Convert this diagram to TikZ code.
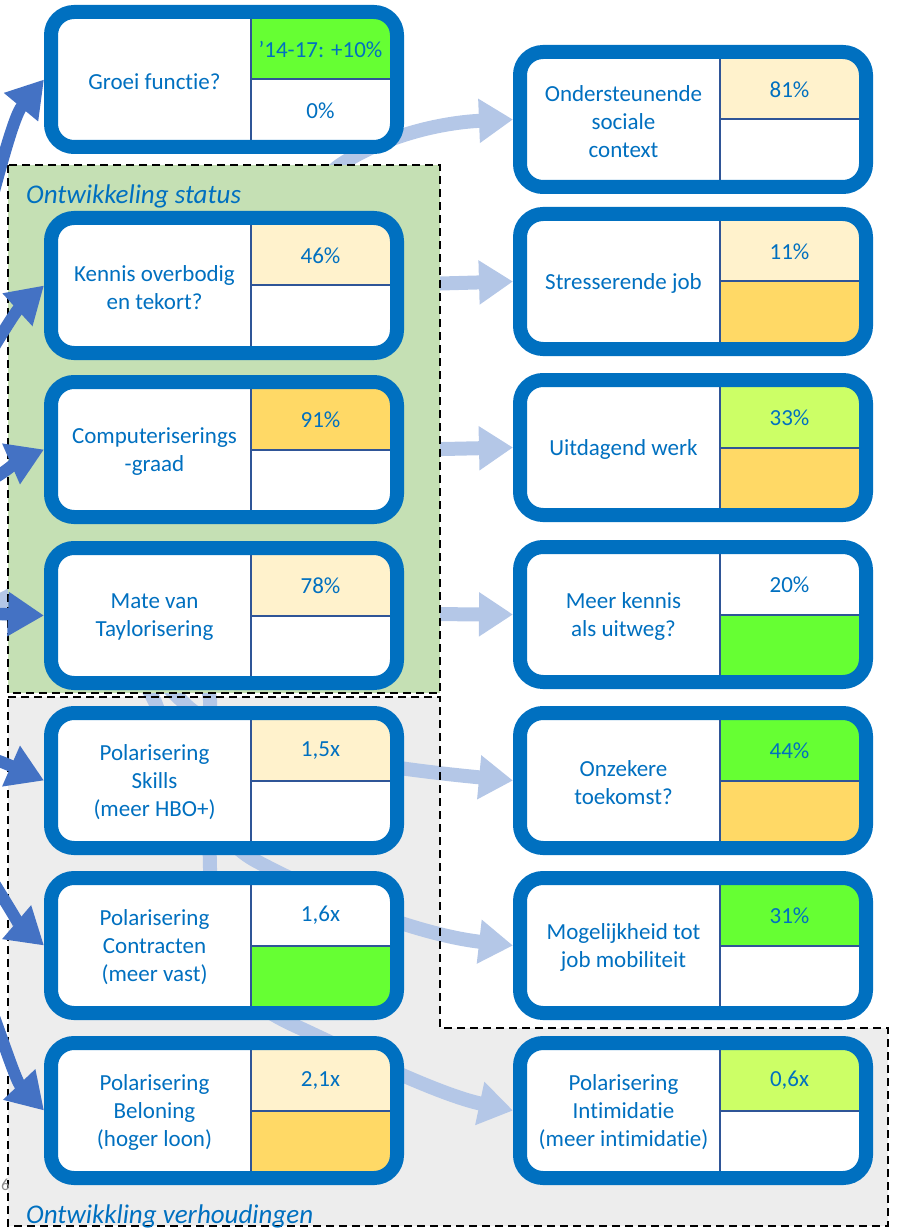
\documentclass[tikz,border=0pt]{standalone}
\usepackage{fontspec}
\setmainfont{Carlito}[RawFeature={-liga;-clig;-dlig}]
\usetikzlibrary{arrows.meta,calc}
\definecolor{boxblue}{HTML}{0070C0}
\definecolor{txtblue}{HTML}{0070C0}
\definecolor{divblue}{HTML}{2F5597}
\definecolor{darkarrow}{HTML}{4472C4}
\definecolor{lightarrow}{HTML}{B4C7E7}
\definecolor{greenbg}{HTML}{C5E0B4}
\definecolor{graybg}{HTML}{EDEDED}
\definecolor{cLY}{HTML}{FFF2CC}
\definecolor{cGold}{HTML}{FFD966}
\definecolor{cGreen}{HTML}{66FF33}
\definecolor{cLime}{HTML}{CCFF66}
\definecolor{slidegray}{HTML}{8C8C8C}
\pgfdeclarelayer{bglayer}
\pgfdeclarelayer{arrlayer}
\pgfdeclarelayer{grnlayer}
\pgfdeclarelayer{toplayer}
\pgfsetlayers{bglayer,arrlayer,grnlayer,main,toplayer}
\tikzset{
  cellbox/.style 2 args={draw=boxblue, line width=14pt, rounded corners=23pt, fill=white,
    minimum width=346pt, minimum height=135pt, inner sep=0pt, outer sep=7pt,
    path picture={
      \fill[#1, sharp corners] ($(path picture bounding box.north)+(27,0)$) rectangle (path picture bounding box.east);
      \fill[#2, sharp corners] ($(path picture bounding box.center)+(27,0)$) rectangle (path picture bounding box.south east);
      \draw[divblue, line width=2pt, sharp corners] ($(path picture bounding box.north)+(27,0)$) -- ($(path picture bounding box.south)+(27,0)$);
      \draw[divblue, line width=2pt, sharp corners] ($(path picture bounding box.center)+(27,0)$) -- (path picture bounding box.east);
    }},
  lbl/.style={text=txtblue, align=center, font=\fontsize{23}{28}\selectfont, inner sep=0pt},
  val/.style={text=txtblue, font=\fontsize{23}{28}\selectfont, inner sep=0pt},
  grp/.style={text=txtblue, font=\fontsize{27}{32}\selectfont\itshape, inner sep=0pt, anchor=base west},
  darr/.style={draw=darkarrow, line width=12pt, -{Triangle[length=36pt,width=42pt]}},
  larr/.style={draw=lightarrow, line width=14pt, -{Triangle[length=34pt,width=42pt]}},
  grpborder/.style={draw=black, line width=2.6pt, dash pattern=on 8pt off 5pt},
}
\newcommand\mkcell[8]{%
  \node[cellbox={#5}{#7}] (#1) at (#2,#3) {};
  \node[lbl] (#1l) at ($(#1.center)+(-69.5,2)$) {#4};
  \if\relax\detokenize{#6}\relax\else\node[val] (#1a) at ($(#1.center)+(96.5,-30)$) {#6};\fi
  \if\relax\detokenize{#8}\relax\else\node[val] (#1b) at ($(#1.center)+(96.5,31)$) {#8};\fi
}
\begin{document}
\begin{tikzpicture}[x=1pt,y=-1pt]
\useasboundingbox (0,0) rectangle (896,1230);
% boxes, left column
\mkcell{L1}{224}{79.5}{Groei functie?}{cGreen}{’14-17: +10\%}{white}{0\%}
\mkcell{L2}{224}{285.5}{Kennis overbodig\\en tekort?}{cLY}{46\%}{white}{}
\mkcell{L3}{224}{449.5}{Computeriserings\\-graad}{cGold}{91\%}{white}{}
\mkcell{L4}{224}{615.5}{Mate van\\Taylorisering}{cLY}{78\%}{white}{}
\mkcell{L5}{224}{780.5}{Polarisering\\Skills\\(meer HBO+)}{cLY}{1,5x}{white}{}
\mkcell{L6}{224}{945.5}{Polarisering\\Contracten\\(meer vast)}{white}{1,6x}{cGreen}{}
\mkcell{L7}{224}{1110.5}{Polarisering\\Beloning\\(hoger loon)}{cLY}{2,1x}{cGold}{}
% boxes, right column
\mkcell{R1}{693}{119.5}{Ondersteunende\\sociale\\context}{cLY}{81\%}{white}{}
\mkcell{R2}{693}{281.5}{Stresserende job}{cLY}{11\%}{cGold}{}
\mkcell{R3}{693}{447.5}{Uitdagend werk}{cLime}{33\%}{cGold}{}
\mkcell{R4}{693}{614.5}{Meer kennis\\als uitweg?}{white}{20\%}{cGreen}{}
\mkcell{R5}{693}{780.5}{Onzekere\\toekomst?}{cGreen}{44\%}{cGold}{}
\mkcell{R6}{693}{945.5}{Mogelijkheid tot\\job mobiliteit}{cGreen}{31\%}{white}{}
\mkcell{R7}{693}{1110.5}{Polarisering\\Intimidatie\\(meer intimidatie)}{cLime}{0,6x}{white}{}
% group labels
\node[grp] (gstat) at (26,204) {Ontwikkeling status};
\node[grp] (gverh) at (26,1223) {Ontwikkling verhoudingen};
\node[text=slidegray, font=\fontsize{17}{20}\selectfont, inner sep=0pt] (pnum) at (5.5,1185) {6};
% group backgrounds
\begin{pgfonlayer}{bglayer}
  \fill[graybg] (8,697) -- (440,697) -- (440,1028) -- (888,1028) -- (888,1226) -- (8,1226) -- cycle;
\end{pgfonlayer}
\begin{pgfonlayer}{grnlayer}
  \fill[greenbg] (8,165) rectangle (440,693);
  \draw[grpborder] (8,165) rectangle (440,693);
  \draw[grpborder] (8,697) -- (440,697) -- (440,1028) -- (888,1028) -- (888,1226) -- (8,1226) -- cycle;
\end{pgfonlayer}
% light arrows
\coordinate (srcL) at (-30,612);
\begin{pgfonlayer}{arrlayer}
  \draw[larr] (srcL) .. controls (150,560) and (250,230) .. (340,165) .. controls (390,132) and (450,122) .. (R1.west);
  \draw[larr] (srcL) .. controls (150,612) and (250,288) .. (350,286) -- (R2.west);
  \draw[larr] (srcL) .. controls (150,612) and (250,452) .. (350,451) -- (R3.west);
  \draw[larr] (srcL) -- (R4.west);
  \draw[larr] (srcL) .. controls (100,612) and (150,670) .. (185,704) .. controls (225,745) and (380,768) .. (R5.west);
  \draw[larr] (srcL) .. controls (90,615) and (130,650) .. (155,702) .. controls (185,780) and (215,840) .. (258,862) .. controls (330,900) and (420,935) .. (R6.west);
  \draw[larr] (srcL) .. controls (120,615) and (205,640) .. (210,700) .. controls (210,800) and (207,880) .. (215,940) .. controls (230,990) and (260,1010) .. (300,1028) .. controls (360,1056) and (440,1095) .. (R7.west);
\end{pgfonlayer}
% dark arrows
\coordinate (d1) at (-25,260);
\coordinate (d2) at (-20,370);
\coordinate (d3) at (-20,485);
\coordinate (d4) at (-20,613);
\coordinate (d5) at (-20,755);
\coordinate (d6) at (-20,860);
\coordinate (d7) at (-20,980);
\begin{pgfonlayer}{toplayer}
  \draw[darr] (d1) .. controls (-5,190) and (12,118) .. (L1.west);
  \draw[darr] (d2) .. controls (-5,345) and (15,312) .. (L2.west);
  \draw[darr] (d3) .. controls (0,477) and (20,460) .. (L3.west);
  \draw[darr] (d4) -- (L4.west);
  \draw[darr] (d5) .. controls (0,760) and (20,770) .. (L5.west);
  \draw[darr] (d6) .. controls (-5,885) and (20,925) .. (L6.west);
  \draw[darr] (d7) .. controls (0,1030) and (15,1080) .. (L7.west);
\end{pgfonlayer}
\end{tikzpicture}
\end{document}
